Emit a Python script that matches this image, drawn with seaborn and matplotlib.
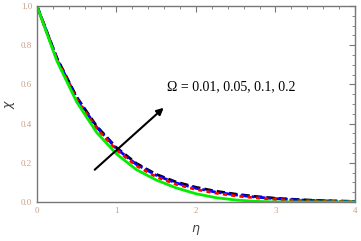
import numpy as np
import pandas as pd
import matplotlib
matplotlib.use("Agg")
import matplotlib.pyplot as plt
import seaborn as sns
from matplotlib.ticker import MultipleLocator

# --- Data --------------------------------------------------------------------
eta = [0, 0.25, 0.5, 0.75, 1.0, 1.25, 1.5, 1.75, 2.0, 2.25, 2.5, 2.75, 3.0, 3.25, 3.5, 3.75, 4.0]
chi_green = [1, 0.72, 0.51, 0.355, 0.245, 0.165, 0.112, 0.072, 0.042, 0.022, 0.010, 0.003, 0.0, 0.0, 0.0, 0.0, 0.0]
chi_red   = [1, 0.728, 0.523, 0.375, 0.265, 0.185, 0.128, 0.09, 0.064, 0.045, 0.031, 0.021, 0.013, 0.008, 0.005, 0.003, 0.001]
chi_blue  = [1, 0.732, 0.530, 0.382, 0.272, 0.192, 0.136, 0.097, 0.070, 0.050, 0.036, 0.025, 0.017, 0.011, 0.007, 0.004, 0.002]
chi_black = [1, 0.735, 0.535, 0.387, 0.277, 0.197, 0.141, 0.102, 0.075, 0.055, 0.040, 0.028, 0.019, 0.013, 0.008, 0.005, 0.003]

series = {
    "black": (chi_black, (0, (3, 1.5))),
    "blue":  (chi_blue,  (0, (3, 1, 1, 1))),
    "red":   (chi_red,   (0, (1.5, 1.5))),
    "#00EE00": (chi_green, "-"),
}

sns.set_style("white")
fig = plt.figure(figsize=(3.61, 2.41), dpi=100)
ax = fig.add_axes([0.1025, 0.162, 0.8805, 0.813])

for color, (vals, ls) in series.items():
    df = pd.DataFrame({"eta": eta, "chi": vals})
    sns.lineplot(data=df, x="eta", y="chi", ax=ax, color=color, linewidth=2.0,
                 linestyle=ls, estimator=None, sort=False)

ax.set_xlim(0, 4)
ax.set_ylim(0, 1.0)
ax.xaxis.set_major_locator(MultipleLocator(1))
ax.xaxis.set_minor_locator(MultipleLocator(0.2))
ax.yaxis.set_major_locator(MultipleLocator(0.2))
ax.yaxis.set_minor_locator(MultipleLocator(0.05))
ax.set_xticklabels([str(int(t)) for t in ax.get_xticks()])
ax.set_yticklabels([f"{t:.1f}" for t in ax.get_yticks()])

frame = "#777777"
for sp in ax.spines.values():
    sp.set_color(frame)
    sp.set_linewidth(1.0)
ax.tick_params(which="both", direction="in", top=True, right=True,
               color=frame, labelsize=6.5, labelcolor="#C8A08C",
               labelfontfamily="Liberation Serif")
ax.tick_params(which="major", length=4, width=0.8)
ax.tick_params(which="minor", length=2, width=0.6)

ax.set_xlabel(r"$\eta$", fontsize=9, color="#444444", labelpad=6)
ax.set_ylabel(r"$\chi$", fontsize=9, color="#444444", labelpad=3, rotation=90)

# arrow and annotation
ax.annotate("", xy=(1.62, 0.49), xytext=(0.70, 0.155),
            arrowprops=dict(arrowstyle="-|>", color="black", lw=1.5,
                            mutation_scale=10))
ax.text(1.64, 0.59, "\u03a9 = 0.01, 0.05, 0.1, 0.2", fontsize=10,
        family="Liberation Serif", color="black", va="center", ha="left")

fig.savefig("out.png", dpi=100)
